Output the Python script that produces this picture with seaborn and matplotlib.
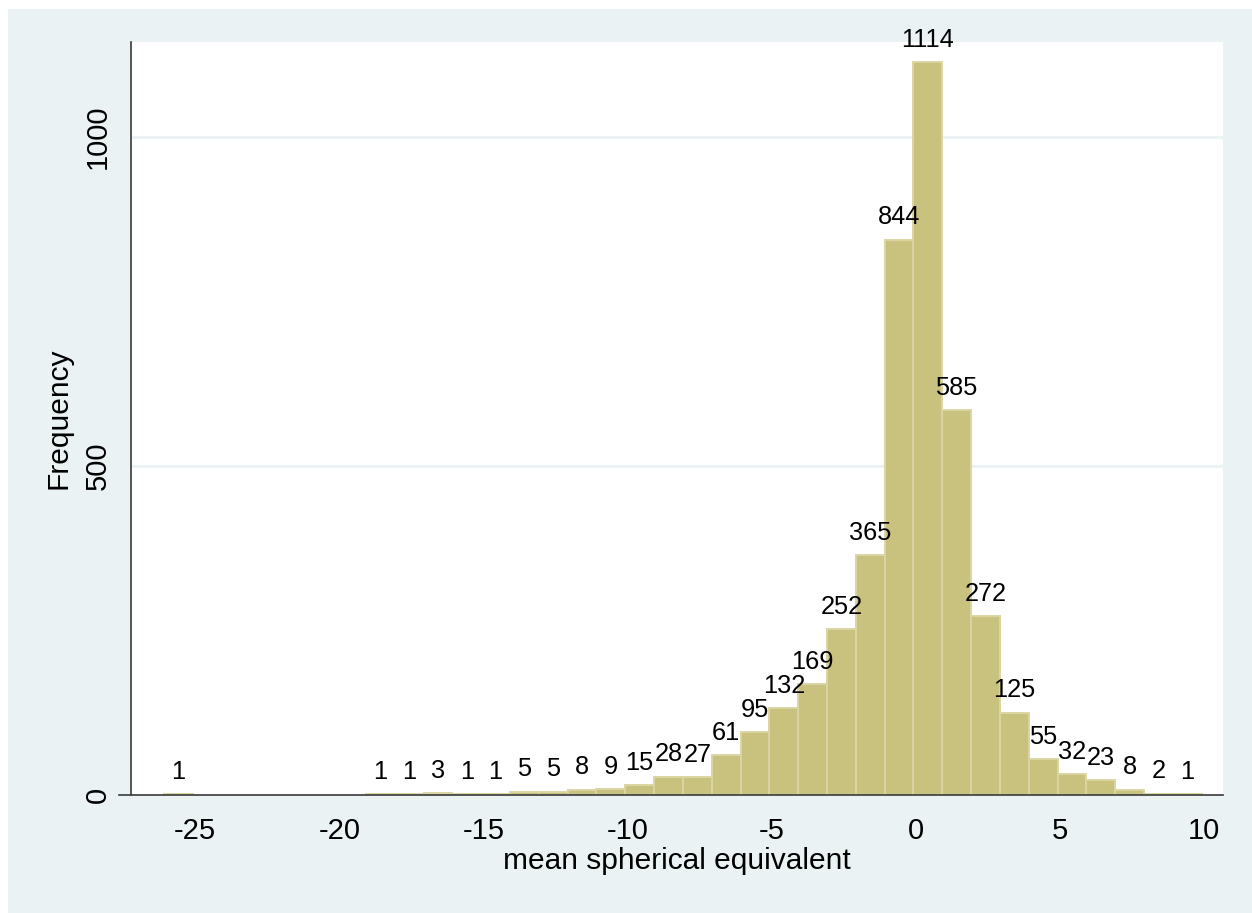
import matplotlib
matplotlib.use("Agg")
import matplotlib.pyplot as plt
import numpy as np
import pandas as pd
import seaborn as sns
from matplotlib.patches import Rectangle

# --- data (bins of width 1 starting at -26.08) ---
bin_start = -26.08
bin_width = 1.0
counts = [1, 0, 0, 0, 0, 0, 0,
          1, 1, 3, 1, 1, 5, 5, 8, 9, 15, 28, 27, 61, 95, 132, 169, 252,
          365, 844, 1114, 585, 272, 125, 55, 32, 23, 8, 2, 1]
x_ticks = [-25, -20, -15, -10, -5, 0, 5, 10]
y_ticks = [0, 500, 1000]
x_label = "mean spherical equivalent"
y_label = "Frequency"

BG = "#EAF2F3"
BAR = "#C9C27F"
BAR_EDGE = "#DAD5A4"
AXIS = "#3A3A3A"

sns.set_theme(style="white")
plt.rcParams["font.family"] = ["Liberation Sans", "DejaVu Sans"]

edges = bin_start + bin_width * np.arange(len(counts) + 1)
centers = (edges[:-1] + edges[1:]) / 2
df = pd.DataFrame({"mse": centers, "n": counts})

fig = plt.figure(figsize=(12.52, 9.13), dpi=100, facecolor="white")
# Stata-like outer panel
fig.patches.append(Rectangle((8 / 1252, 0), 1, (913 - 9) / 913,
                             transform=fig.transFigure, facecolor=BG,
                             edgecolor="none", zorder=-10))
ax = fig.add_axes([131 / 1252, 1 - 795 / 913, (1222.7 - 131) / 1252,
                   (795 - 41.7) / 913])
ax.set_facecolor("white")

sns.histplot(data=df, x="mse", weights="n", bins=edges.tolist(), ax=ax,
             color=BAR, alpha=1, edgecolor=BAR_EDGE, linewidth=1.4,
             zorder=2)
# hide the empty bins
for p in ax.patches:
    if p.get_height() == 0:
        p.set_visible(False)

for c, n in zip(centers, counts):
    if n > 0:
        ax.annotate(str(n), (c, n), xytext=(0, 11), textcoords="offset points",
                    ha="center", va="baseline", fontsize=18.3, color="black")

ax.set_xlim(-27.23, 10.65)
ax.set_ylim(0, 1145)
ax.set_xticks(x_ticks)
ax.set_yticks(y_ticks)
ax.set_xticklabels([str(t) for t in x_ticks])
ax.set_yticklabels([str(t) for t in y_ticks], rotation=90, va="center")

for t in y_ticks[1:]:
    ax.axhline(t, color=BG, linewidth=2, zorder=0.5)

for side in ["top", "right"]:
    ax.spines[side].set_visible(False)
for side in ["left", "bottom"]:
    ax.spines[side].set_color(AXIS)
    ax.spines[side].set_linewidth(1.2)
ax.spines["bottom"].set_bounds(-27.65, 10.65)

ax.tick_params(axis="both", direction="out", length=9, width=1.1,
               color=AXIS, labelsize=21, labelcolor="black")
ax.tick_params(axis="x", pad=7)
ax.tick_params(axis="y", pad=5)
ax.set_xlabel(x_label, fontsize=21.5, color="black", labelpad=1.5)
ax.set_ylabel(y_label, fontsize=21.5, color="black", labelpad=8)

fig.savefig("out.png", dpi=100, facecolor="white")
